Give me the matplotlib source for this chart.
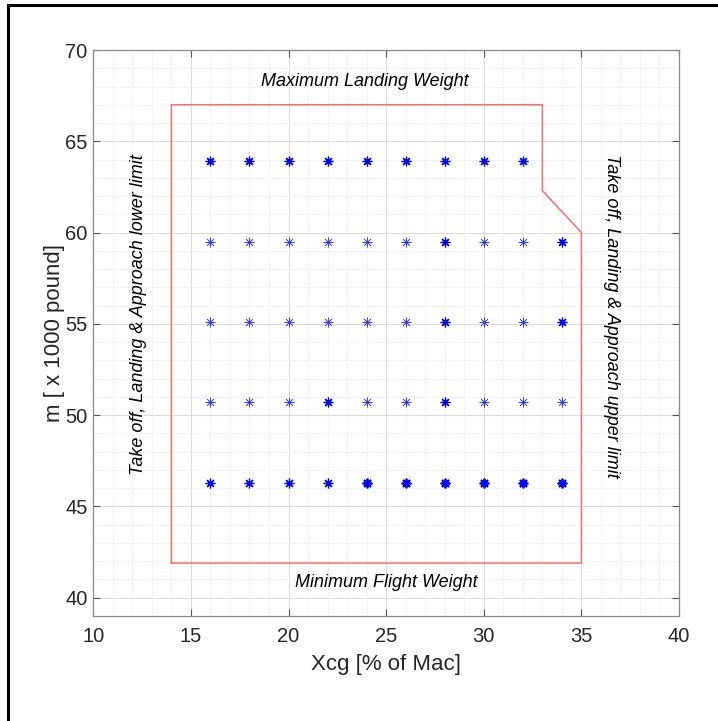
import matplotlib
matplotlib.use("Agg")
import matplotlib.pyplot as plt
from matplotlib.patches import Rectangle
import numpy as np

plt.rcParams['font.family'] = ['Liberation Sans', 'DejaVu Sans']

# Weight & balance envelope (x: %MAC, y: thousand pounds)
env_x = [14, 14, 33, 33, 35, 35, 14]
env_y = [41.9, 67, 67, 62.3, 60, 41.9, 41.9]

# Load-case grid
xcg_top = [16, 18, 20, 22, 24, 26, 28, 30, 32]
xcg_rows = [16, 18, 20, 22, 24, 26, 28, 30, 32, 34]
mass_levels = [63.9, 59.5, 55.1, 50.7, 46.3]

# number of coincident cases at each grid point
n_cases = [
    [2, 2, 2, 2, 2, 2, 2, 2, 2],
    [1, 1, 1, 1, 1, 1, 2, 1, 1, 2],
    [1, 1, 1, 1, 1, 1, 2, 1, 1, 2],
    [1, 1, 1, 2, 1, 1, 2, 1, 1, 1],
    [2, 2, 2, 2, 3, 3, 3, 3, 3, 3],
]

W, H = 718, 721
fig = plt.figure(figsize=(W / 100, H / 100), dpi=100)
fig.patch.set_facecolor('white')

# outer frame
fig.patches.append(Rectangle((8 / W, -0.1), 1.2, 1 - 5 / H + 0.1, transform=fig.transFigure,
                             fill=False, edgecolor='black', linewidth=2.2, zorder=10))

ax = fig.add_axes([93.3 / W, 1 - 616 / H, (679 - 93.3) / W, (616 - 50) / H])

ax.set_xlim(10, 40)
ax.set_ylim(39, 70)
ax.set_xticks([10, 15, 20, 25, 30, 35, 40])
ax.set_yticks([40, 45, 50, 55, 60, 65, 70])
ax.set_xticks(np.arange(10, 41, 1), minor=True)
ax.set_yticks(np.arange(39, 71, 1), minor=True)

axis_gray = '#262626'
for s in ax.spines.values():
    s.set_color('#8a8a8a')
    s.set_linewidth(0.9)
ax.tick_params(which='major', direction='in', length=5, width=0.8, color='#555555',
               top=True, right=True, labelsize=14.5, labelcolor=axis_gray)
ax.tick_params(axis='x', which='major', pad=8)
ax.tick_params(axis='y', which='major', pad=4)
ax.tick_params(which='minor', length=0, top=True, right=True)

ax.grid(which='major', color='#dcdcdc', linewidth=0.8, linestyle='-')
ax.grid(which='minor', color='#e8e8e8', linewidth=0.7, linestyle=(0, (1.5, 1.5)))
ax.set_axisbelow(True)

ax.plot(env_x, env_y, color='#ff6b6b', linewidth=1.1, zorder=3)

marker = (8, 2, 0)
for i, m in enumerate(mass_levels):
    xs = xcg_top if i == 0 else xcg_rows
    for x, n in zip(xs, n_cases[i]):
        lw = {1: 0.5, 2: 0.9, 3: 1.3}[n]
        col = '#3a3aff' if n == 1 else '#0000ff'
        ax.plot([x], [m], linestyle='none', marker=marker, markersize=7,
                markeredgewidth=lw, color=col, zorder=4)

ax.text(23.93, 68.26, 'Maximum Landing Weight', fontsize=13, style='italic',
        ha='center', va='center', color='black')
ax.text(25.0, 40.82, 'Minimum Flight Weight', fontsize=13, style='italic',
        ha='center', va='center', color='black')
ax.text(12.29, 55.5, 'Take off, Landing & Approach lower limit', fontsize=13,
        style='italic', rotation=90, ha='center', va='center', color='black')
ax.text(36.54, 55.45, 'Take off, Landing & Approach upper limit', fontsize=13,
        style='italic', rotation=-90, ha='center', va='center', color='black')

ax.set_xlabel('Xcg [% of Mac]', fontsize=16, color=axis_gray, labelpad=6)
ax.set_ylabel('m [ x 1000 pound]', fontsize=16, color=axis_gray, labelpad=0)

fig.savefig('out.png', dpi=100, facecolor='white')
